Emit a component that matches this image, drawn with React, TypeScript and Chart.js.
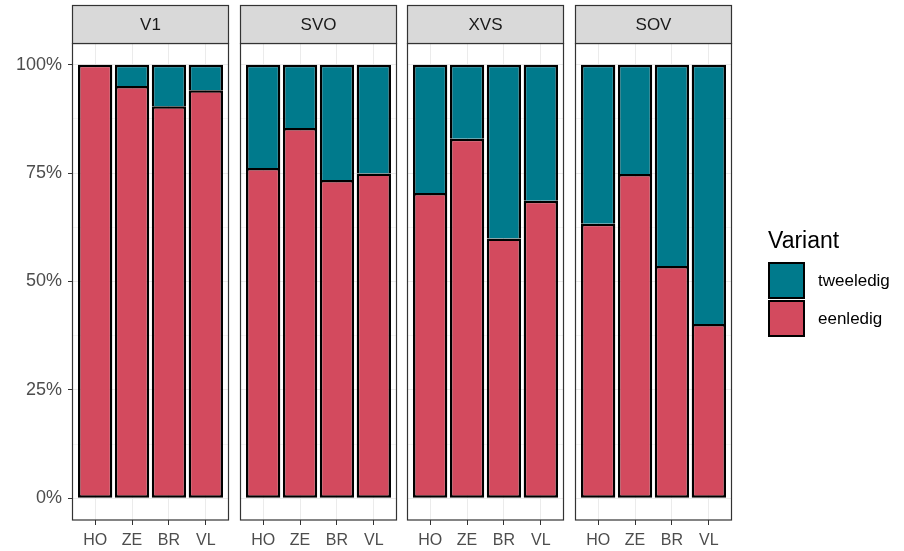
import React, { useEffect, useRef } from 'react';
import { Chart, registerables } from 'chart.js';

Chart.register(...registerables);

// ---- data ----
const facets = ['V1', 'SVO', 'XVS', 'SOV'];
const regions = ['HO', 'ZE', 'BR', 'VL'];
const eenledigV1 = [100, 95.1, 90.4, 94.1];
const tweeledigV1 = [0, 4.9, 9.6, 5.9];
const eenledigSVO = [76.2, 85.4, 73.4, 74.9];
const tweeledigSVO = [23.8, 14.6, 26.6, 25.1];
const eenledigXVS = [70.4, 82.9, 59.9, 68.6];
const tweeledigXVS = [29.6, 17.1, 40.1, 31.4];
const eenledigSOV = [63.3, 74.8, 53.6, 40.2];
const tweeledigSOV = [36.7, 25.2, 46.4, 59.8];
const yMajorTicks = [0, 25, 50, 75, 100];
const yMinorTicks = [12.5, 37.5, 62.5, 87.5];
const legendTitle = 'Variant';
const seriesNames = ['eenledig', 'tweeledig'];

const eenledig = [eenledigV1, eenledigSVO, eenledigXVS, eenledigSOV];
const tweeledig = [tweeledigV1, tweeledigSVO, tweeledigXVS, tweeledigSOV];

// ---- style / layout ----
const W = 904;
const H = 551;
const PANEL_LEFT = [73, 241, 408, 576];
const PANEL_W = 155;
const STRIP_TOP = 5;
const PANEL_TOP = 43;
const PANEL_BOTTOM = 520;
const RED = '#D34A5E';
const TEAL = '#007A8C';
const FONT = '"Liberation Sans", Arial, Helvetica, sans-serif';

Chart.defaults.font.family = FONT;

function makePlugin(i: number) {
  return {
    id: 'frame' + i,
    afterDraw(chart: any) {
      const ctx = chart.ctx as CanvasRenderingContext2D;
      const a = chart.chartArea;
      const l = Math.round(a.left) - 0.5;
      const w = Math.round(a.right - a.left) + 1;
      ctx.save();
      // panel border
      ctx.strokeStyle = '#333333';
      ctx.lineWidth = 1.2;
      ctx.strokeRect(l, PANEL_TOP + 0.5, w, PANEL_BOTTOM - PANEL_TOP - 0.5);
      // strip
      ctx.fillStyle = '#D9D9D9';
      ctx.fillRect(l, STRIP_TOP + 0.5, w, PANEL_TOP - STRIP_TOP);
      ctx.strokeRect(l, STRIP_TOP + 0.5, w, PANEL_TOP - STRIP_TOP);
      ctx.fillStyle = '#1A1A1A';
      ctx.font = '17px ' + FONT;
      ctx.textAlign = 'center';
      ctx.textBaseline = 'middle';
      ctx.fillText(facets[i], (a.left + a.right) / 2, (STRIP_TOP + PANEL_TOP) / 2 + 1);
      if (i === facets.length - 1) {
        // legend
        const lx = 768;
        ctx.textAlign = 'left';
        ctx.textBaseline = 'alphabetic';
        ctx.fillStyle = '#000000';
        ctx.font = '23px ' + FONT;
        ctx.fillText(legendTitle, lx, 248);
        const keys = [
          { name: seriesNames[1], color: TEAL, y: 262 },
          { name: seriesNames[0], color: RED, y: 300 },
        ];
        ctx.font = '17px ' + FONT;
        ctx.textBaseline = 'middle';
        for (const k of keys) {
          ctx.fillStyle = k.color;
          ctx.fillRect(lx + 1, k.y + 1, 35, 35);
          ctx.strokeStyle = '#000000';
          ctx.lineWidth = 2;
          ctx.strokeRect(lx + 1, k.y + 1, 35, 35);
          ctx.fillStyle = '#000000';
          ctx.fillText(k.name, 818, k.y + 19);
        }
      }
      ctx.restore();
    },
  };
}

function makeConfig(i: number): any {
  const left = PANEL_LEFT[i];
  const right = left + PANEL_W;
  const first = i === 0;
  const allY = [...yMajorTicks, ...yMinorTicks].sort((a, b) => a - b);
  const common = {
    borderColor: '#000000',
    borderSkipped: false,
    barPercentage: 0.93,
    categoryPercentage: 1,
  };
  return {
    type: 'bar',
    data: {
      datasets: [
        {
          ...common,
          label: seriesNames[0],
          data: regions.map((_, j) => ({ x: j + 1, y: eenledig[i][j] })),
          backgroundColor: RED,
          borderWidth: { top: 2.5, bottom: 2.5, left: 2.5, right: 2.5 },
        },
        {
          ...common,
          label: seriesNames[1],
          data: regions.map((_, j) => ({ x: j + 1, y: tweeledig[i][j] })),
          backgroundColor: TEAL,
          borderWidth: { top: 2.5, bottom: 0, left: 2.5, right: 2.5 },
        },
      ],
    },
    options: {
      responsive: false,
      animation: false,
      events: [],
      layout: {
        padding: { left: first ? 0 : left, right: W - right, top: PANEL_TOP, bottom: 0 },
      },
      plugins: { legend: { display: false }, tooltip: { enabled: false } },
      scales: {
        x: {
          type: 'linear',
          stacked: true,
          offset: false,
          min: 0.4,
          max: 4.6,
          afterBuildTicks: (s: any) => {
            s.ticks = regions.map((_, j) => ({ value: j + 1 }));
          },
          afterFit: (s: any) => {
            s.height = H - PANEL_BOTTOM;
          },
          ticks: {
            callback: (v: any) => regions[Math.round(v) - 1] ?? '',
            color: '#4D4D4D',
            font: { size: 16, family: FONT },
            padding: 6,
            autoSkip: false,
            maxRotation: 0,
          },
          grid: { offset: false, color: '#EBEBEB', lineWidth: 1, tickColor: '#333333', tickLength: 5 },
          border: { display: false },
        },
        y: {
          stacked: true,
          min: -5,
          max: 105,
          afterBuildTicks: (s: any) => {
            s.ticks = allY.map((v) => ({ value: v }));
          },
          afterFit: (s: any) => {
            s.width = first ? PANEL_LEFT[0] : 0;
          },
          ticks: {
            display: first,
            autoSkip: false,
            callback: (v: any) => (yMajorTicks.includes(v) ? v + '%' : ''),
            color: '#4D4D4D',
            font: { size: 18, family: FONT },
            padding: 6,
          },
          grid: {
            color: (c: any) => (c.tick && yMajorTicks.includes(c.tick.value) ? '#EBEBEB' : '#F4F4F4'),
            lineWidth: 1,
            drawTicks: first,
            tickColor: (c: any) => (c.tick && yMajorTicks.includes(c.tick.value) ? '#333333' : 'rgba(0,0,0,0)'),
            tickLength: 5,
          },
          border: { display: false },
        },
      },
    },
    plugins: [makePlugin(i)],
  };
}

export default function App() {
  const refs = [useRef<HTMLCanvasElement>(null), useRef<HTMLCanvasElement>(null), useRef<HTMLCanvasElement>(null), useRef<HTMLCanvasElement>(null)];
  useEffect(() => {
    const charts = refs.map((r, i) => new Chart(r.current as HTMLCanvasElement, makeConfig(i)));
    return () => charts.forEach((c) => c.destroy());
  }, []);
  return (
    <div style={{ position: 'fixed', left: 0, top: 0, width: W, height: H, background: '#ffffff' }}>
      {refs.map((r, i) => (
        <canvas key={i} ref={r} width={W} height={H} style={{ position: 'absolute', left: 0, top: 0, width: W, height: H }} />
      ))}
    </div>
  );
}
